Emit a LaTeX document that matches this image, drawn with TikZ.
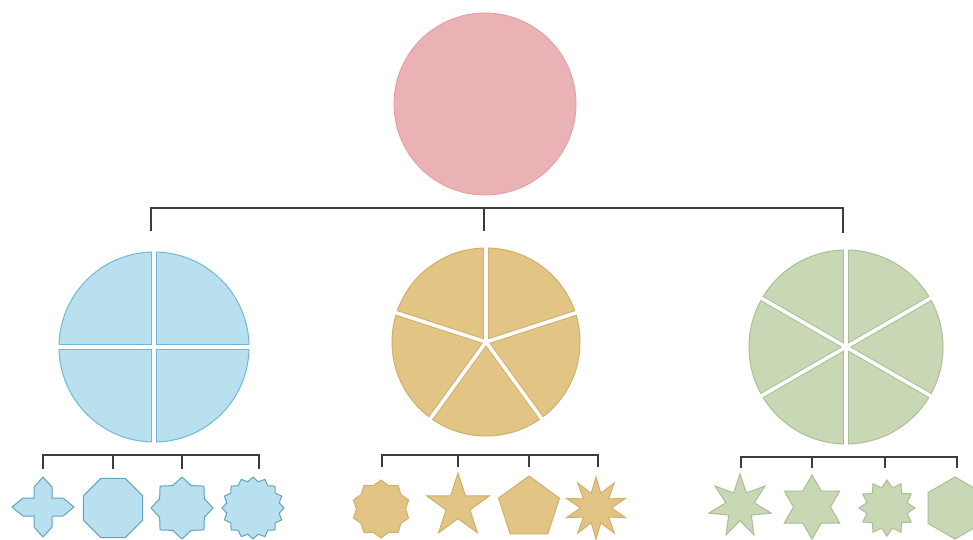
\documentclass[tikz,border=0pt]{standalone}
\usetikzlibrary{shapes.geometric}
\definecolor{pinkF}{HTML}{EBB2B5}
\definecolor{pinkS}{HTML}{E29CA2}
\definecolor{blueF}{HTML}{B8E0EF}
\definecolor{blueS}{HTML}{72B8D6}
\definecolor{blueD}{HTML}{62A3BF}
\definecolor{orF}{HTML}{E2C484}
\definecolor{orS}{HTML}{D2AE6C}
\definecolor{grF}{HTML}{C8D8B4}
\definecolor{grS}{HTML}{ABBE95}
\definecolor{conC}{HTML}{3C3C3C}
\tikzset{
  conn/.style={draw=conC, line width=1.6pt},
  sh/.style={inner sep=0pt, outer sep=0pt, line width=1pt},
  bshape/.style={sh, fill=blueF, draw=blueD},
  oshape/.style={sh, fill=orF, draw=orS},
  gshape/.style={sh, fill=grF, draw=grS},
}
% pie: center, radius, fill, stroke, first angle, step, count
\newcommand\mypie[7]{%
  \fill[#3] (#1) circle (#2);
  \begin{scope}
    \clip (#1) circle (#2);
    \foreach \k in {1,...,#7}{
      \draw[#4, line width=5.6pt] (#1) -- ++({#5+(\k-1)*#6}:#2+4);
    }
  \end{scope}
  \draw[#4, line width=1pt] (#1) circle (#2);
  \foreach \k in {1,...,#7}{
    \draw[white, line width=3.6pt] (#1) -- ++({#5+(\k-1)*#6}:#2+4);
  }
  \fill[white] (#1) circle (2.6);
}
\begin{document}
\begin{tikzpicture}[x=1pt,y=-1pt]
\useasboundingbox (0,0) rectangle (973,539);
\fill[white] (0,0) rectangle (973,539);

% big circles (centres)
\coordinate (root) at (485,104);
\coordinate (cb) at (154,347);
\coordinate (co) at (486,342);
\coordinate (cg) at (846,347);

\node[circle, fill=pinkF, draw=pinkS, line width=0.8pt, minimum size=182pt, inner sep=0pt] (rootc) at (root) {};

\mypie{cb}{95}{blueF}{blueS}{0}{90}{4}
\mypie{co}{94}{orF}{orS}{-90}{72}{5}
\mypie{cg}{97}{grF}{grS}{90}{60}{6}

% top connector
\coordinate (tL) at (151,231);
\coordinate (tM) at (484,231);
\coordinate (tR) at (843,233);
\coordinate (tbar) at (0,208);
\draw[conn] (tL) -- (tL |- tbar) -- (tR |- tbar) -- (tR);
\draw[conn] (tM |- tbar) -- (tM);

% blue shapes
\node[bshape, star, star points=8, star point ratio=1.28, minimum size=62pt] (b3) at (182,508) {};
\node[bshape, regular polygon, regular polygon sides=8, minimum size=64pt] (b2) at (113,508) {};
\node[bshape, star, star points=16, star point ratio=1.16, minimum size=62pt] (b4) at (253,508) {};
\coordinate (b1) at (43,508);
\draw[bshape] (b1) ++(0,-31) -- ++(9,10) -- ++(0,11) -- ++(11,0) -- ++(11,9)
  -- ++(-11,9) -- ++(-11,0) -- ++(0,11) -- ++(-9,10) -- ++(-9,-10) -- ++(0,-11)
  -- ++(-11,0) -- ++(-11,-9) -- ++(11,-9) -- ++(11,0) -- ++(0,-11) -- cycle;
\coordinate (bbar) at (0,455);
\foreach \n/\x in {1/43,2/113,3/182,4/259}{\coordinate (bt\n) at (\x,469);}
\draw[conn] (bt1) -- (bt1 |- bbar) -- (bt4 |- bbar) -- (bt4);
\draw[conn] (bt2 |- bbar) -- (bt2);
\draw[conn] (bt3 |- bbar) -- (bt3);

% orange shapes
\node[oshape, star, star points=10, star point ratio=1.18, minimum size=58pt] (o1) at (381,509) {};
\node[oshape, star, star points=5, star point ratio=2.618, minimum size=66pt] (o2) at (458,506) {};
\node[oshape, regular polygon, regular polygon sides=5, minimum size=64pt] (o3) at (529,508) {};
\node[oshape, star, star points=10, star point ratio=2, minimum size=62pt] (o4) at (596,508) {};
\coordinate (obar) at (0,455);
\foreach \n/\x in {1/382,2/458,3/529,4/598}{\coordinate (ot\n) at (\x,467);}
\draw[conn] (ot1) -- (ot1 |- obar) -- (ot4 |- obar) -- (ot4);
\draw[conn] (ot2 |- obar) -- (ot2);
\draw[conn] (ot3 |- obar) -- (ot3);

% green shapes
\node[gshape, star, star points=7, star point ratio=2.2, minimum size=64pt] (g1) at (740,506) {};
\node[gshape, star, star points=6, star point ratio=1.732, minimum size=64pt] (g2) at (812,507) {};
\node[gshape, star, star points=12, star point ratio=1.35, minimum size=56pt] (g3) at (887,508) {};
\node[gshape, regular polygon, regular polygon sides=6, shape border rotate=30, minimum size=62pt] (g4) at (955,508) {};
\coordinate (gbar) at (0,457);
\foreach \n/\x in {1/741,2/812,3/885,4/957}{\coordinate (gt\n) at (\x,468);}
\draw[conn] (gt1) -- (gt1 |- gbar) -- (gt4 |- gbar) -- (gt4);
\draw[conn] (gt2 |- gbar) -- (gt2);
\draw[conn] (gt3 |- gbar) -- (gt3);
\end{tikzpicture}
\end{document}
